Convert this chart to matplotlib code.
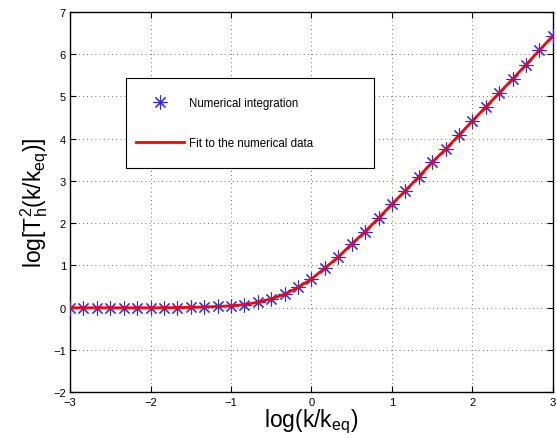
import matplotlib
matplotlib.use("Agg")
import matplotlib.pyplot as plt
import numpy as np
from matplotlib.legend_handler import HandlerLine2D
from matplotlib.lines import Line2D

plt.rcParams['font.family'] = ['Liberation Sans', 'DejaVu Sans']
plt.rcParams['mathtext.fontset'] = 'custom'
plt.rcParams['mathtext.rm'] = 'Liberation Sans'
plt.rcParams['mathtext.it'] = 'Liberation Sans:italic'

# log(k/k_eq) sample points
log_k = [-3.0, -2.833, -2.667, -2.5, -2.333, -2.167, -2.0, -1.833, -1.667, -1.5,
         -1.333, -1.167, -1.0, -0.833, -0.667, -0.5, -0.333, -0.167, 0.0, 0.167,
         0.333, 0.5, 0.667, 0.833, 1.0, 1.167, 1.333, 1.5, 1.667, 1.833,
         2.0, 2.167, 2.333, 2.5, 2.667, 2.833, 3.0]
# numerical integration values log[T_h^2]
log_T2 = [0.0, 0.0, 0.0, 0.0, 0.0, 0.0, 0.0, 0.002, 0.005, 0.01,
          0.02, 0.03, 0.045, 0.075, 0.13, 0.21, 0.32, 0.48, 0.68, 0.94,
          1.20, 1.51, 1.80, 2.12, 2.45, 2.77, 3.10, 3.44, 3.75, 4.08,
          4.42, 4.75, 5.08, 5.41, 5.75, 6.09, 6.43]
# fit curve
fit_T2 = log_T2

x_ticks = [-3, -2, -1, 0, 1, 2, 3]
y_ticks = [-2, -1, 0, 1, 2, 3, 4, 5, 6, 7]


class CenteredLineHandler(HandlerLine2D):
    """Keep legend glyphs on the text's middle when rows are made taller."""
    def create_artists(self, legend, orig_handle, xdescent, ydescent,
                       width, height, fontsize, trans):
        arts = super().create_artists(legend, orig_handle, xdescent, ydescent,
                                      width, height, fontsize, trans)
        for a in arts:
            if isinstance(a, Line2D):
                yd = np.asarray(a.get_ydata(), dtype=float)
                a.set_ydata(np.full_like(yd, 0.32 * fontsize))
        return arts


fig = plt.figure(figsize=(5.57, 4.39), dpi=100)
ax = fig.add_axes([0.1257, 0.104, 0.867, 0.867])

h1, = ax.plot(log_k, log_T2, linestyle='none', marker=(8, 2, 0), markersize=10,
              markeredgewidth=0.8, color='#2a2aff', label='Numerical integration', zorder=3)
h2, = ax.plot(log_k, fit_T2, color='#ff0000', linewidth=2.0,
              label='Fit to the numerical data', zorder=4)

ax.set_xlim(-3, 3)
ax.set_ylim(-2, 7)
ax.set_xticks(x_ticks)
ax.set_yticks(y_ticks)
ax.tick_params(direction='in', top=True, right=True, labelsize=8, length=4, width=0.8, pad=3)
ax.grid(True, linestyle=(0, (1, 4)), color='#444444', linewidth=0.6)
for s in ax.spines.values():
    s.set_linewidth(1.0)

ax.set_xlabel(r'log(k/k$_{\rm eq}$)', fontsize=16.5, labelpad=0)
ax.set_ylabel(r'log[T$_{\rm h}^{\rm 2}$(k/k$_{\rm eq}$)]', fontsize=16.5, labelpad=2)

hm = {h1: CenteredLineHandler(), h2: CenteredLineHandler()}
leg = ax.legend(handles=[h1, h2], handler_map=hm,
                loc='upper left', bbox_to_anchor=(0.116, 0.406, 0.513, 0.42),
                mode='expand', fontsize=8.3, frameon=True, fancybox=False,
                edgecolor='black', framealpha=1, handlelength=4.16,
                handleheight=3.62, labelspacing=0.87, borderpad=0.87,
                handletextpad=0.43, borderaxespad=0)
leg.get_frame().set_linewidth(0.8)

fig.savefig('out.png', dpi=100)
